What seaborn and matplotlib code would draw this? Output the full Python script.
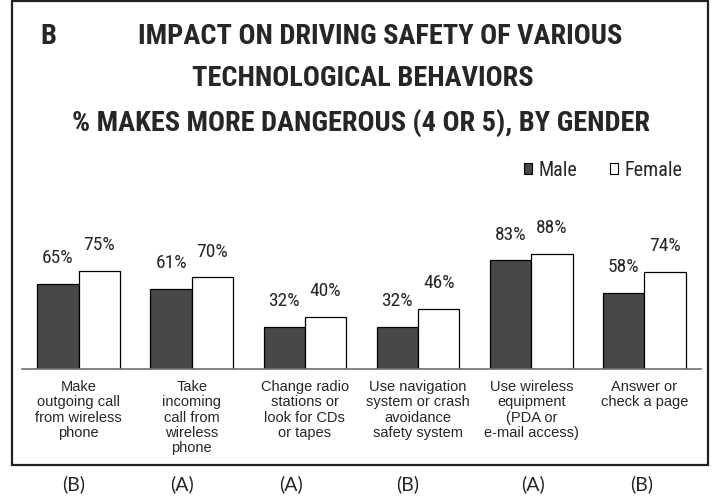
import matplotlib
matplotlib.use("Agg")
import matplotlib.pyplot as plt
from matplotlib import font_manager
from matplotlib.patches import Rectangle
import pandas as pd
import seaborn as sns

# Data
categories = [
    "Make\noutgoing call\nfrom wireless\nphone",
    "Take\nincoming\ncall from\nwireless\nphone",
    "Change radio\nstations or\nlook for CDs\nor tapes",
    "Use navigation\nsystem or crash\navoidance\nsafety system",
    "Use wireless\nequipment\n(PDA or\ne-mail access)",
    "Answer or\ncheck a page",
]
male = [65, 61, 32, 32, 83, 58]
female = [75, 70, 40, 46, 88, 74]
group_codes = ["(B)", "(A)", "(A)", "(B)", "(A)", "(B)"]
genders = ["Male", "Female"]
title_lines = [
    "IMPACT ON DRIVING SAFETY OF VARIOUS",
    "TECHNOLOGICAL BEHAVIORS",
    "% MAKES MORE DANGEROUS (4 OR 5), BY GENDER",
]

# Fonts: prefer a narrow face if one is installed
names = {f.name for f in font_manager.fontManager.ttflist}
narrow = "Liberation Sans"
for cand in ["Liberation Sans Narrow", "Arial Narrow", "DejaVu Sans Condensed",
             "Roboto Condensed", "Open Sans Condensed"]:
    if cand in names:
        narrow = cand
        break
regular = "Liberation Sans"
code_font = "Lato" if "Lato" in names else "DejaVu Sans"

sns.set_style("white")
plt.rcParams["font.family"] = [regular, "DejaVu Sans"]

df = pd.DataFrame({
    "behavior": categories * 2,
    "gender": [genders[0]] * len(male) + [genders[1]] * len(female),
    "pct": male + female,
})

W, H = 716, 496
fig = plt.figure(figsize=(W / 100, H / 100), dpi=100)
renderer = fig.canvas.get_renderer()


def fit_width(t, target_px):
    # shrink/grow a text so it spans about target_px pixels
    w = t.get_window_extent(renderer).width
    t.set_fontsize(t.get_fontsize() * target_px / w)


# axes placed in pixel terms: baseline at y=369, x from 22 to 701
ax = fig.add_axes([22 / W, (H - 369) / H, 679 / W, 131 / H])

sns.barplot(data=df, x="behavior", y="pct", hue="gender", hue_order=genders,
            palette={"Male": "#484848", "Female": "white"},
            edgecolor="black", linewidth=0.9, width=0.73, gap=0,
            saturation=1, ax=ax)

ax.set_ylim(0, 100)
ax.set_xlim(-0.5, len(categories) - 0.5)
ax.set_xlabel("")
ax.set_ylabel("")
ax.set_yticks([])
for s in ["top", "left", "right"]:
    ax.spines[s].set_visible(False)
ax.spines["bottom"].set_color("#707070")
ax.spines["bottom"].set_linewidth(1.2)

# ticks at group boundaries, labels drawn as text under each group
ax.set_xticks([i - 0.5 for i in range(len(categories) + 1)])
ax.set_xticklabels([])
ax.tick_params(axis="x", direction="out", length=6, width=1, color="#707070")
for i, lab in enumerate(categories):
    ax.text(i, -8.5, lab, ha="center", va="top", fontsize=10.5,
            linespacing=1.12, family=[regular, "DejaVu Sans"])

for cont, vals in zip(ax.containers, [male, female]):
    ax.bar_label(cont, labels=[f"{v}%" for v in vals], padding=12,
                 fontsize=14, family=[narrow, "DejaVu Sans"])

sns.move_legend(ax, "center right", bbox_to_anchor=(700 / W, 1 - 170 / H),
                bbox_transform=fig.transFigure, ncol=2, frameon=False, title=None,
                handlelength=0.42, handleheight=0.42, handletextpad=0.3,
                columnspacing=1.6, prop={"family": narrow, "size": 14.5})
for h in ax.get_legend().legend_handles:
    h.set_linewidth(0.8)

# titles, sized to the widths in the reference
tkw = dict(ha="center", va="center", fontsize=18, fontweight="bold",
           family=[narrow, "DejaVu Sans"])
t1 = fig.text(380 / W, 1 - 36 / H, title_lines[0], **tkw)
t2 = fig.text(363 / W, 1 - 78 / H, title_lines[1], **tkw)
t3 = fig.text(361 / W, 1 - 123 / H, title_lines[2], **tkw)
sizes = []
for t, target in [(t1, 505), (t2, 356), (t3, 537)]:
    fit_width(t, target)
    sizes.append(t.get_fontsize())
tsize = sum(sizes) / len(sizes)
for t in (t1, t2, t3):
    t.set_fontsize(tsize)
fig.text(48 / W, 1 - 36 / H, "B", **{**tkw, "fontsize": tsize})

# outer frame
fig.patches.append(Rectangle((12 / W, 1 - 465 / H), 696 / W, 464 / H,
                             transform=fig.transFigure, fill=False,
                             edgecolor="#202020", linewidth=1.6))

# group codes below the frame
code_x = [74, 182, 291, 408, 533, 642]
for x, code in zip(code_x, group_codes):
    fig.text(x / W, 1 - 484 / H, code, ha="center", va="center",
             fontsize=14, family=[code_font, "DejaVu Sans"])

fig.savefig("out.png", dpi=100)
